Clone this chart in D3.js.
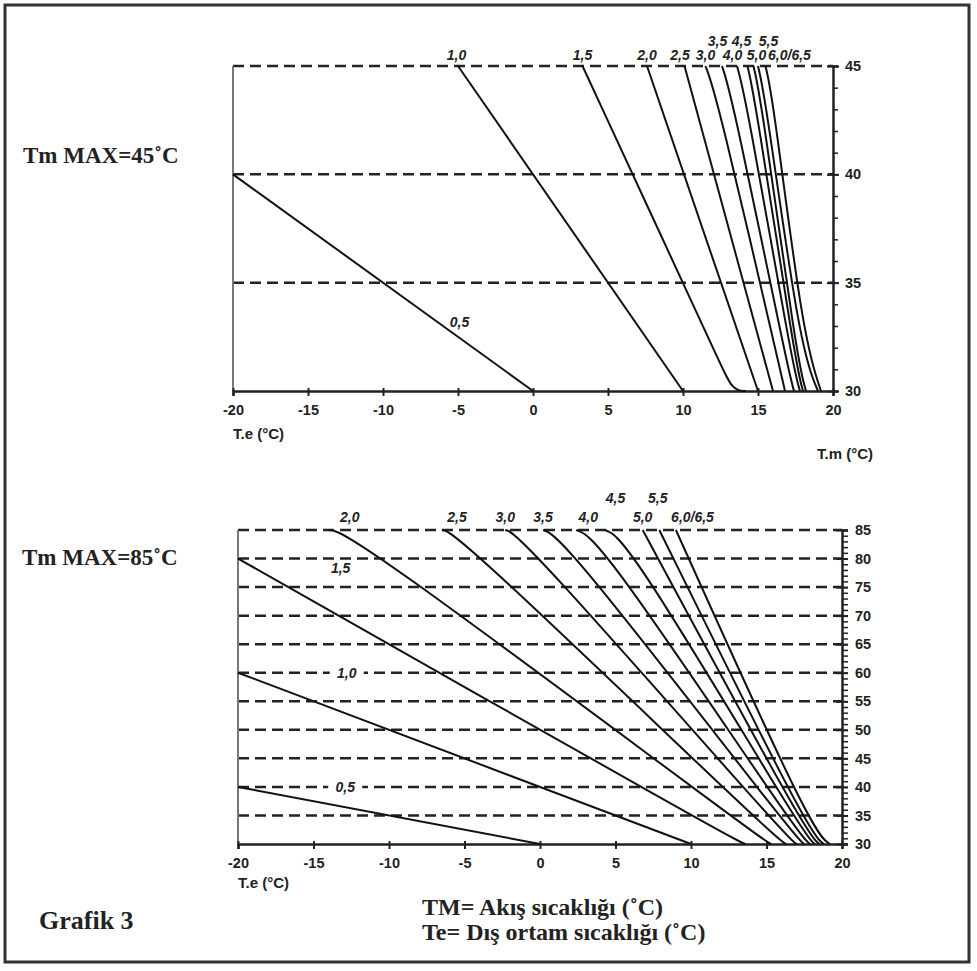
<!DOCTYPE html>
<html>
<head>
<meta charset="utf-8">
<script src="https://cdn.jsdelivr.net/npm/d3@7"></script>
<style>
  body { margin: 0; background: #fff; }
  .tick text { font-family: "Liberation Sans", Arial, sans-serif; font-weight: bold; font-size: 14.5px; fill: #222; }
  .curve { fill: none; stroke: #111; stroke-width: 2; }
  .grid { stroke: #222; stroke-width: 2.5; stroke-dasharray: 11,6; }
  .clabel { font-family: "Liberation Sans", Arial, sans-serif; font-weight: bold; font-style: italic; font-size: 14px; fill: #222; }
  .alabel { font-family: "Liberation Sans", Arial, sans-serif; font-weight: bold; font-size: 15px; fill: #222; }
  .serif { font-family: "Liberation Serif", "Times New Roman", serif; font-weight: bold; font-size: 23px; fill: #222; }
</style>
</head>
<body>
<div id="chart"></div>
<script>
// x ticks shared by both charts (T.e)
var teTicks = [-20, -15, -10, -5, 0, 5, 10, 15, 20];

// ---- chart 1: Tm max 45
var topTmTicks = [30, 35, 40, 45];
var topGrid = [35, 40, 45];
var topCurves = [
  {k: "0,5", pts: [[-20, 40], [0, 30]]},
  {k: "1,0", pts: [[-5, 45], [10, 30]]},
  {k: "1,5", pts: [[3.3, 45], [12.4, 31.4], [13.3, 30], [14.2, 30]]},
  {k: "2,0", pts: [[7.6, 45], [15, 30]]},
  {k: "2,5", pts: [[10.1, 45], [16, 30]]},
  {k: "3,0", pts: [[11.5, 45], [12.3, 43.5], [16.8, 30]]},
  {k: "3,5", pts: [[12.6, 45], [13.3, 43.5], [17.0, 31], [17.4, 30]]},
  {k: "4,0", pts: [[13.6, 45], [14.2, 43.5], [17.3, 31.2], [17.8, 30]]},
  {k: "4,5", pts: [[14.3, 45], [14.8, 43.5], [17.5, 31.3], [18.0, 30]]},
  {k: "5,0", pts: [[14.7, 45], [15.2, 43.5], [17.6, 31.5], [18.2, 30]]},
  {k: "5,5", pts: [[15.0, 45], [15.5, 43.5], [17.8, 32], [19.0, 30]]},
  {k: "6,0/6,5", pts: [[15.5, 45], [16.0, 43.5], [18.0, 32.5], [19.2, 30]]}
];
var topLabels = [
  {t: "1,0", te: -5.1, row: 0}, {t: "1,5", te: 3.3, row: 0}, {t: "2,0", te: 7.6, row: 0},
  {t: "2,5", te: 9.8, row: 0}, {t: "3,0", te: 11.5, row: 0}, {t: "4,0", te: 13.3, row: 0},
  {t: "5,0", te: 14.9, row: 0}, {t: "6,0/6,5", te: 17.1, row: 0},
  {t: "3,5", te: 12.3, row: 1}, {t: "4,5", te: 13.9, row: 1}, {t: "5,5", te: 15.7, row: 1}
];
var topInner = [{t: "0,5", te: -4.9, tm: 33.2}];

// ---- chart 2: Tm max 85
var botTmTicks = [30, 35, 40, 45, 50, 55, 60, 65, 70, 75, 80, 85];
var botGrid = [35, 40, 45, 50, 55, 60, 65, 70, 75, 80, 85];
var botCurves = [
  {k: "0,5", pts: [[-20, 40], [0, 30]]},
  {k: "1,0", pts: [[-20, 60], [10, 30]]},
  {k: "1,5", pts: [[-20, 80], [12.8, 30.8], [13.6, 30]]},
  {k: "2,0", pts: [[-14, 85], [-12.5, 84.5], [14.6, 31], [15.3, 30]]},
  {k: "2,5", pts: [[-6.5, 85], [-5.5, 84.5], [15.6, 31], [16.3, 30]]},
  {k: "3,0", pts: [[-2.3, 85], [-1.3, 84.2], [16.4, 31], [17.0, 30]]},
  {k: "3,5", pts: [[0.2, 85], [1.6, 83.5], [16.9, 31.2], [17.5, 30]]},
  {k: "4,0", pts: [[2.4, 85], [4.0, 83.3], [17.2, 31.3], [17.9, 30]]},
  {k: "4,5", pts: [[4.3, 85], [5.8, 83.3], [17.5, 31.5], [18.2, 30]]},
  {k: "5,0", pts: [[6.8, 85], [17.6, 32], [18.5, 30]]},
  {k: "5,5", pts: [[7.9, 85], [17.8, 32], [18.8, 30]]},
  {k: "6,0/6,5", pts: [[9.0, 85], [18.0, 32.2], [19.2, 30]]}
];
var botLabels = [
  {t: "2,0", te: -12.6, row: 0}, {t: "2,5", te: -5.5, row: 0}, {t: "3,0", te: -2.3, row: 0},
  {t: "3,5", te: 0.2, row: 0}, {t: "4,0", te: 3.2, row: 0}, {t: "5,0", te: 6.8, row: 0},
  {t: "6,0/6,5", te: 10.1, row: 0},
  {t: "4,5", te: 5.0, row: 1}, {t: "5,5", te: 7.8, row: 1}
];
var botInner = [
  {t: "1,5", te: -13.2, tm: 78.4, bg: false},
  {t: "1,0", te: -12.8, tm: 60, bg: true},
  {t: "0,5", te: -12.9, tm: 40, bg: true}
];

var W = 977, H = 971;
var svg = d3.select("#chart").append("svg")
    .attr("width", W)
    .attr("height", H);

svg.append("rect")
    .attr("x", 5).attr("y", 5)
    .attr("width", 964).attr("height", 957)
    .attr("fill", "#fff")
    .attr("stroke", "#333")
    .attr("stroke-width", 3);

function drawChart(opt) {
  var x = d3.scaleLinear().domain([-20, 20]).range([opt.x0, opt.x1]);
  var y = d3.scaleLinear().domain([30, opt.ymax]).range([opt.y0, opt.y1]);
  var g = svg.append("g");

  // dashed reference lines
  g.selectAll(".grid").data(opt.grid).enter().append("line")
      .attr("class", "grid")
      .attr("x1", x(-20)).attr("x2", x(20))
      .attr("y1", function(d) { return y(d); })
      .attr("y2", function(d) { return y(d); });

  // grey left edge
  g.append("line")
      .attr("x1", x(-20)).attr("x2", x(-20))
      .attr("y1", y(opt.ymax)).attr("y2", y(30))
      .attr("stroke", "#777").attr("stroke-width", 2);

  // x axis (plain hyphen minus like the original)
  var xa = g.append("g")
      .attr("transform", "translate(0," + y(30) + ")")
      .call(d3.axisBottom(x).tickValues(teTicks).tickSize(5).tickPadding(9)
        .tickFormat(function(d) { return String(d); }));
  xa.select(".domain").attr("stroke", "#222").attr("stroke-width", 2.5);
  xa.selectAll(".tick line").attr("stroke", "#222").attr("stroke-width", 2).attr("y1", -3);

  // right axis: minor ticks
  var minor = g.append("g")
      .attr("transform", "translate(" + x(20) + ",0)")
      .call(d3.axisRight(y).ticks(opt.ymax - 30).tickSize(opt.minorLen).tickFormat(""));
  minor.select(".domain").attr("stroke", "#222").attr("stroke-width", 2.5);
  minor.selectAll(".tick line").attr("stroke", "#222").attr("stroke-width", 1.5);

  // right axis: major ticks + labels
  var major = g.append("g")
      .attr("transform", "translate(" + x(20) + ",0)")
      .call(d3.axisRight(y).tickValues(opt.yticks).tickSize(6).tickPadding(opt.ypad));
  major.select(".domain").remove();
  major.selectAll(".tick line").attr("stroke", "#222").attr("stroke-width", 2).attr("x1", -6);

  // curves
  var line = d3.line()
      .x(function(d) { return x(d[0]); })
      .y(function(d) { return y(d[1]); })
      .curve(d3.curveBasis);
  g.selectAll(".curve").data(opt.curves).enter().append("path")
      .attr("class", "curve")
      .attr("d", function(d) { return line(d.pts); });

  // curve labels above the max line
  g.selectAll(".clabel.top").data(opt.labels).enter().append("text")
      .attr("class", "clabel")
      .attr("text-anchor", "middle")
      .attr("x", function(d) { return x(d.te); })
      .attr("y", function(d) { return y(opt.ymax) - (d.row ? opt.rowUp : opt.rowLow); })
      .text(function(d) { return d.t; });

  // inner labels
  var inner = g.selectAll(".inner").data(opt.inner).enter().append("g")
      .attr("transform", function(d) { return "translate(" + x(d.te) + "," + y(d.tm) + ")"; });
  inner.filter(function(d) { return d.bg; }).append("rect")
      .attr("x", -17).attr("y", -8).attr("width", 34).attr("height", 16)
      .attr("fill", "#fff");
  inner.append("text")
      .attr("class", "clabel")
      .attr("text-anchor", "middle")
      .attr("dy", "0.35em")
      .text(function(d) { return d.t; });

  g.append("text")
      .attr("class", "alabel")
      .attr("x", x(-20)).attr("y", y(30) + opt.teDy)
      .text("T.e (°C)");
  return {x: x, y: y};
}

var c1 = drawChart({
  x0: 233, x1: 833, y0: 391, y1: 66, ymax: 45,
  grid: topGrid, yticks: topTmTicks, curves: topCurves,
  labels: topLabels, inner: topInner,
  minorLen: 5, ypad: 6, rowLow: 6, rowUp: 20, teDy: 48
});
var c2 = drawChart({
  x0: 238, x1: 842, y0: 844, y1: 530, ymax: 85,
  grid: botGrid, yticks: botTmTicks, curves: botCurves,
  labels: botLabels, inner: botInner,
  minorLen: 6, ypad: 7, rowLow: 8, rowUp: 27, teDy: 44
});

svg.append("text")
    .attr("class", "alabel")
    .attr("text-anchor", "end")
    .attr("x", 873).attr("y", 459)
    .text("T.m (°C)");

svg.append("text").attr("class", "serif").attr("x", 23).attr("y", 163).text("Tm MAX=45˚C");
svg.append("text").attr("class", "serif").attr("x", 22).attr("y", 565).text("Tm MAX=85˚C");
svg.append("text").attr("class", "serif").style("font-size", "26px").attr("x", 39).attr("y", 929).text("Grafik 3");
svg.append("text").attr("class", "serif").style("font-size", "24px").attr("x", 422).attr("y", 915).text("TM= Akış sıcaklığı (˚C)");
svg.append("text").attr("class", "serif").style("font-size", "24px").attr("x", 422).attr("y", 940).text("Te= Dış ortam sıcaklığı  (˚C)");
</script>
</body>
</html>
